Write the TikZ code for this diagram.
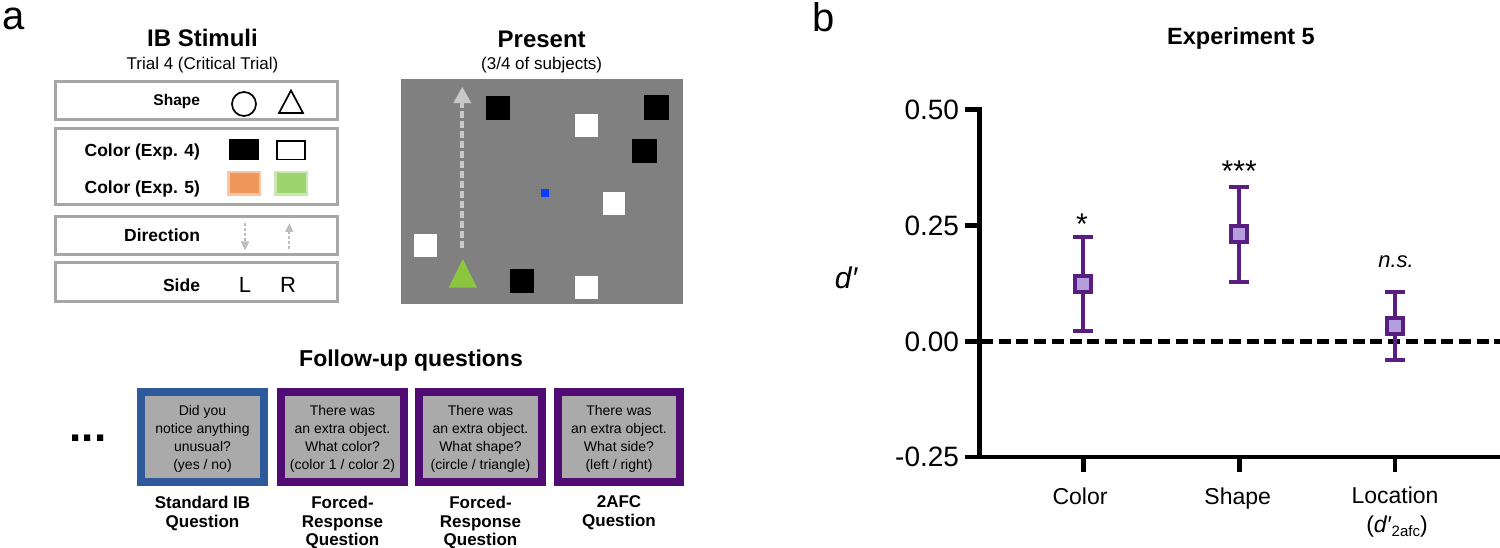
\documentclass[tikz,border=0pt]{standalone}
\usepackage{fontspec}
\setmainfont{Liberation Sans}
\usetikzlibrary{arrows.meta}
\definecolor{ibgray}{RGB}{166,166,166}
\definecolor{arrowgray}{RGB}{190,190,190}
\definecolor{panelgray}{RGB}{128,128,128}
\definecolor{presarrow}{RGB}{200,200,200}
\definecolor{stimgreen}{RGB}{140,198,63}
\definecolor{fixblue}{RGB}{10,60,255}
\definecolor{orangec}{RGB}{240,152,92}
\definecolor{greenc}{RGB}{158,212,110}
\definecolor{qgray}{RGB}{170,170,170}
\definecolor{qblue}{RGB}{46,90,155}
\definecolor{qpurple}{RGB}{80,12,115}
\definecolor{barpurple}{RGB}{88,30,130}
\definecolor{fillpurple}{RGB}{180,158,220}
\newcommand{\setfs}[2]{\fontsize{#1}{#2}\selectfont}
\begin{document}
\begin{tikzpicture}[x=1pt,y=-1pt,
  every node/.style={inner sep=0pt,outer sep=0pt},
  ibbox/.style={draw=ibgray,line width=3pt},
  iblab/.style={anchor=base east,font=\bfseries\setfs{17.5}{17.5}},
  symline/.style={line width=1.7pt},
  dirarrow/.style={arrowgray,line width=1.7pt,dash pattern=on 3pt off 2pt,-{Triangle[width=8pt,length=9pt]}},
  qbox/.style={line width=8pt,fill=qgray},
  qtext/.style={anchor=north,align=center,font=\setfs{14}{18.2}},
  qlab/.style={anchor=north,align=center,font=\bfseries\setfs{17}{18.8}},
  axisline/.style={line width=4.5pt},
  errbar/.style={barpurple,line width=4pt},
  marker/.style={draw=barpurple,fill=fillpurple,line width=4pt},
  ticklab/.style={anchor=east,font=\setfs{28}{28}},
  xlab/.style={anchor=base,font=\setfs{23}{23}}]
\useasboundingbox (0,0) rectangle (1500,548);

% panel labels
\node[anchor=base,font=\setfs{40}{40}] (la) at (14,29.5) {a};
\node[anchor=base,font=\setfs{40}{40}] (lb) at (824,32) {b};

% ---------- IB stimuli ----------
\node[anchor=base,font=\bfseries\setfs{24}{24}] (ibt) at (202.5,46.7) {IB Stimuli};
\node[anchor=base,font=\setfs{17}{17}] (ibs) at (202.5,69.3) {Trial 4 (Critical Trial)};

\draw[ibbox] (55.5,81.5) rectangle (337.5,119.5);
\draw[ibbox] (55.5,128.5) rectangle (337.5,204.5);
\draw[ibbox] (55.5,216.5) rectangle (337.5,254.5);
\draw[ibbox] (55.5,262.5) rectangle (337.5,301.5);

\node[anchor=base east,font=\bfseries\setfs{15.5}{15.5}] (tshape) at (200,106) {Shape};
\node[iblab] (tc4) at (200,156.7) {Color (Exp. 4)};
\node[iblab] (tc5) at (200,194) {Color (Exp. 5)};
\node[iblab] (tdir) at (200,241.7) {Direction};
\node[iblab] (tside) at (200,291.7) {Side};

\draw[symline] (244,104) circle (12);
\draw[symline,line join=miter] (291,90.5) -- (303,113) -- (279,113) -- cycle;
\fill (229,139) rectangle (259,160);
\draw[symline] (277,141) rectangle (305,159.5);
\fill[orangec!55] (227,171) rectangle (261,196);
\fill[orangec] (229.5,173.5) rectangle (258.5,193.5);
\fill[greenc!55] (274,171) rectangle (308,196);
\fill[greenc] (276.5,173.5) rectangle (305.5,193.5);

\coordinate (dna) at (245,223);
\coordinate (dnb) at (245,250.5);
\coordinate (upa) at (289.3,249.5);
\coordinate (upb) at (289.3,223);
\draw[dirarrow] (dna) -- (dnb);
\draw[dirarrow] (upa) -- (upb);

\node[anchor=base,font=\setfs{22}{22}] (tl) at (245,292.7) {L};
\node[anchor=base,font=\setfs{22}{22}] (tr) at (288,292.7) {R};

% ---------- Present ----------
\node[anchor=base,font=\bfseries\setfs{24}{24}] (prt) at (541.7,47.3) {Present};
\node[anchor=base,font=\setfs{17}{17}] (prs) at (541.7,69.5) {(3/4 of subjects)};
\fill[panelgray] (400.7,79.3) rectangle (682.7,304);
\coordinate (pa) at (462.3,248);
\coordinate (pb) at (462.3,86.7);
\draw[presarrow,line width=4pt,dash pattern=on 7pt off 3pt,-{Triangle[width=17pt,length=16.5pt]}] (pa) -- (pb);
\fill[stimgreen] (462.8,259) -- (477,287.7) -- (448.7,287.7) -- cycle;
\fill[black] (485.7,95.7) rectangle (510.3,120.3);
\fill[black] (644,95) rectangle (668.7,120);
\fill[black] (632.3,138.7) rectangle (657,163.3);
\fill[black] (509.7,268.7) rectangle (534.3,293.3);
\fill[white] (575.3,114.3) rectangle (598.3,137.3);
\fill[white] (602.7,192.3) rectangle (625.3,215);
\fill[white] (414,234.3) rectangle (436.7,257);
\fill[white] (575.3,276) rectangle (598.3,299);
\fill[fixblue] (540.7,189.3) rectangle (548.7,197.3);

% ---------- Follow-up questions ----------
\node[anchor=base,font=\bfseries\setfs{23}{23}] (fut) at (411,366.7) {Follow-up questions};
\node[anchor=base,font=\bfseries\setfs{44}{44}] (dots) at (88,441) {...};

\filldraw[qbox,draw=qblue] (141,392) rectangle (264,482);
\filldraw[qbox,draw=qpurple] (281,392) rectangle (404,482);
\filldraw[qbox,draw=qpurple] (419,392) rectangle (542,482);
\filldraw[qbox,draw=qpurple] (558,392) rectangle (680,482);

\node[qtext] (q1) at (202.5,405) {Did you\\notice anything\\unusual?\\(yes / no)};
\node[qtext] (q2) at (342.5,405) {There was\\an extra object.\\What color?\\(color 1 / color 2)};
\node[qtext] (q3) at (480.5,405) {There was\\an extra object.\\What shape?\\(circle / triangle)};
\node[qtext] (q4) at (619,405) {There was\\an extra object.\\What side?\\(left / right)};

\node[qlab] (l1) at (202.5,496) {Standard IB\\Question};
\node[qlab] (l2) at (342.5,496) {Forced-\\Response\\Question};
\node[qlab] (l3) at (480.5,496) {Forced-\\Response\\Question};
\node[qlab] (l4) at (619,496) {2AFC\\Question};

% ---------- Panel b ----------
\node[anchor=base,font=\bfseries\setfs{23.5}{23.5}] (expt) at (1241,44.9) {Experiment 5};

\draw[axisline,dash pattern=on 12pt off 5.7pt] (981,341.7) -- (1500,341.7);
\draw[axisline,line join=miter] (965,109.5) -- (979.3,109.5) -- (979.3,456.9) -- (1500,456.9);
\draw[axisline] (965,225.6) -- (979.3,225.6);
\draw[axisline] (965,341.7) -- (979.3,341.7);
\draw[axisline] (965,456.9) -- (979.3,456.9);
\draw[axisline] (1083.3,456.9) -- (1083.3,472.3);
\draw[axisline] (1239.3,456.9) -- (1239.3,472.3);
\draw[axisline] (1395,456.9) -- (1395,472.3);

\node[ticklab] (y50) at (959,109.5) {0.50};
\node[ticklab] (y25) at (959,225.6) {0.25};
\node[ticklab] (y00) at (959,341.7) {0.00};
\node[ticklab] (ym25) at (959,456.9) {-0.25};

\node[anchor=base,font=\itshape\setfs{30}{30}] (dl) at (846,289) {d′};

% error bars
\draw[errbar] (1073.3,236.7) -- (1093.3,236.7) (1083.3,236.7) -- (1083.3,331) (1073.3,331) -- (1093.3,331);
\filldraw[marker] (1075.3,276.2) rectangle (1091.3,292.2);
\draw[errbar] (1229.3,186.7) -- (1249.3,186.7) (1239.3,186.7) -- (1239.3,282) (1229.3,282) -- (1249.3,282);
\filldraw[marker] (1231.3,226.2) rectangle (1247.3,242.2);
\draw[errbar] (1385,292.2) -- (1405,292.2) (1395,292.2) -- (1395,359.5) (1385,359.5) -- (1405,359.5);
\filldraw[marker] (1387,318) rectangle (1403,334);

\node[anchor=base,font=\setfs{30}{30}] (s1) at (1082,234.3) {*};
\node[anchor=base,font=\setfs{30}{30}] (s3) at (1239.2,182) {***};
\node[anchor=base,font=\itshape\setfs{22}{22}] (ns) at (1396,268) {n.s.};

\node[xlab] (xc) at (1080,504) {Color};
\node[xlab] (xs) at (1237.7,504) {Shape};
\node[xlab] (xl) at (1395,503.3) {Location};
\node[xlab] (xl2) at (1397,532) {(\textit{d′}\raisebox{-4pt}{\setfs{15}{15}2afc})};
\end{tikzpicture}
\end{document}
